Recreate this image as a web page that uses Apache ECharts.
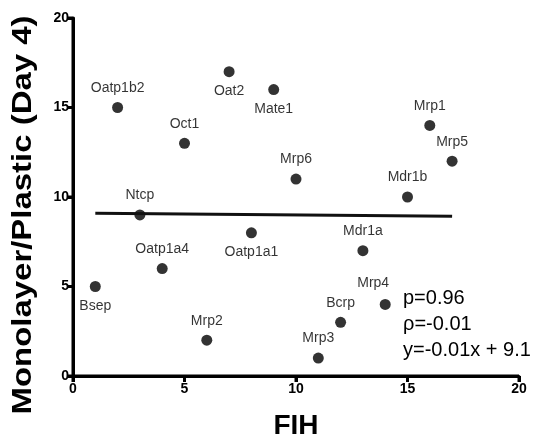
<!DOCTYPE html>
<html>
<head>
<meta charset="utf-8">
<script src="https://cdn.jsdelivr.net/npm/echarts@6/dist/echarts.min.js"></script>
</head>
<body style="margin:0;background:#fff">
<div id="chart" style="width:544px;height:441px"></div>
<script>
// transporter names with FIH rank (x) and monolayer/plastic rank (y)
var names = ['Bsep', 'Oatp1b2', 'Ntcp', 'Oatp1a4', 'Oct1', 'Mrp2', 'Oat2', 'Oatp1a1', 'Mate1',
  'Mrp6', 'Mrp3', 'Bcrp', 'Mdr1a', 'Mrp4', 'Mdr1b', 'Mrp1', 'Mrp5'];
var fih = [1, 2, 3, 4, 5, 6, 7, 8, 9, 10, 11, 12, 13, 14, 15, 16, 17];
var ratio = [5, 15, 9, 6, 13, 2, 17, 8, 16, 11, 1, 3, 7, 4, 10, 14, 12];

// regression line end points
var fitX = [1, 17];
var fitY = [9.09, 8.93];

var ticks = [0, 5, 10, 15, 20];
var statsLines = ['p=0.96', '\u03c1=-0.01', 'y=-0.01x + 9.1'];

// labels drawn under the dot instead of above
var labelsBelow = ['Bsep', 'Oat2', 'Oatp1a1', 'Mate1'];

var font = '"Liberation Sans", Arial, Helvetica, sans-serif';

var points = names.map(function (n, i) {
  var below = labelsBelow.indexOf(n) >= 0;
  var item = { name: n, value: [fih[i], ratio[i]], label: { position: below ? 'bottom' : 'top' } };
  if (n === 'Mrp4') item.label.offset = [-12, -2];
  return item;
});

function makeAxis(extra) {
  var ax = {
    type: 'value',
    min: ticks[0],
    max: ticks[ticks.length - 1],
    interval: 5,
    splitLine: { show: false },
    axisLine: { show: true, lineStyle: { color: '#000', width: 3 } },
    axisTick: { show: true, length: 6, lineStyle: { color: '#000', width: 3 } },
    axisLabel: { color: '#000', fontWeight: 'bold', fontSize: 14, fontFamily: font, margin: extra.margin }
  };
  if (extra.name) {
    ax.name = extra.name;
    ax.nameLocation = 'middle';
    ax.nameGap = 36;
    ax.nameTextStyle = { color: '#000', fontWeight: 'bold', fontSize: 28, fontFamily: font };
  }
  return ax;
}

var chart = echarts.init(document.getElementById('chart'));
chart.setOption({
  animation: false,
  grid: { left: 73, right: 25, top: 18, bottom: 65, outerBoundsMode: 'none' },
  xAxis: makeAxis({ name: 'FIH', margin: 6 }),
  yAxis: makeAxis({ margin: 4 }),
  series: [
    {
      type: 'line',
      data: fitX.map(function (x, i) { return [x, fitY[i]]; }),
      symbol: 'none',
      lineStyle: { color: '#111', width: 3 }
    },
    {
      type: 'scatter',
      data: points,
      symbolSize: 11,
      itemStyle: { color: '#000' },
      label: {
        show: true,
        formatter: '{b}',
        distance: 7,
        color: '#000',
        fontSize: 14,
        fontFamily: font
      }
    }
  ]
});

// axis frame drawn again through the chart's own scales (same place as the axis lines)
function px(x, y) { return chart.convertToPixel({ gridIndex: 0 }, [x, y]); }
var lo = ticks[0], hi = ticks[ticks.length - 1];
var o = px(lo, lo), xe = px(hi, lo), ye = px(lo, hi);
var stroke = { stroke: '#000', lineWidth: 3 };
var frame = [
  { type: 'line', shape: { x1: o[0], y1: o[1], x2: xe[0], y2: xe[1] }, style: stroke, z: 5 },
  { type: 'line', shape: { x1: o[0], y1: o[1], x2: ye[0], y2: ye[1] }, style: stroke, z: 5 }
];
ticks.forEach(function (t) {
  var a = px(t, lo), b = px(lo, t);
  frame.push({ type: 'line', shape: { x1: a[0], y1: a[1], x2: a[0], y2: a[1] + 6 }, style: stroke, z: 5 });
  frame.push({ type: 'line', shape: { x1: b[0], y1: b[1], x2: b[0] - 6, y2: b[1] }, style: stroke, z: 5 });
});

chart.setOption({
  graphic: frame.concat([
    {
      type: 'text',
      x: 24,
      y: 215,
      rotation: Math.PI / 2,
      scaleX: 1.22,
      style: {
        text: 'Monolayer/Plastic (Day 4)',
        font: 'bold 27px ' + font,
        fill: '#000',
        align: 'center',
        verticalAlign: 'middle'
      }
    },
    {
      type: 'text',
      left: 403,
      top: 285,
      style: {
        text: statsLines.join('\n'),
        font: '20px ' + font,
        lineHeight: 26,
        fill: '#000'
      }
    }
  ])
});
</script>
</body>
</html>
